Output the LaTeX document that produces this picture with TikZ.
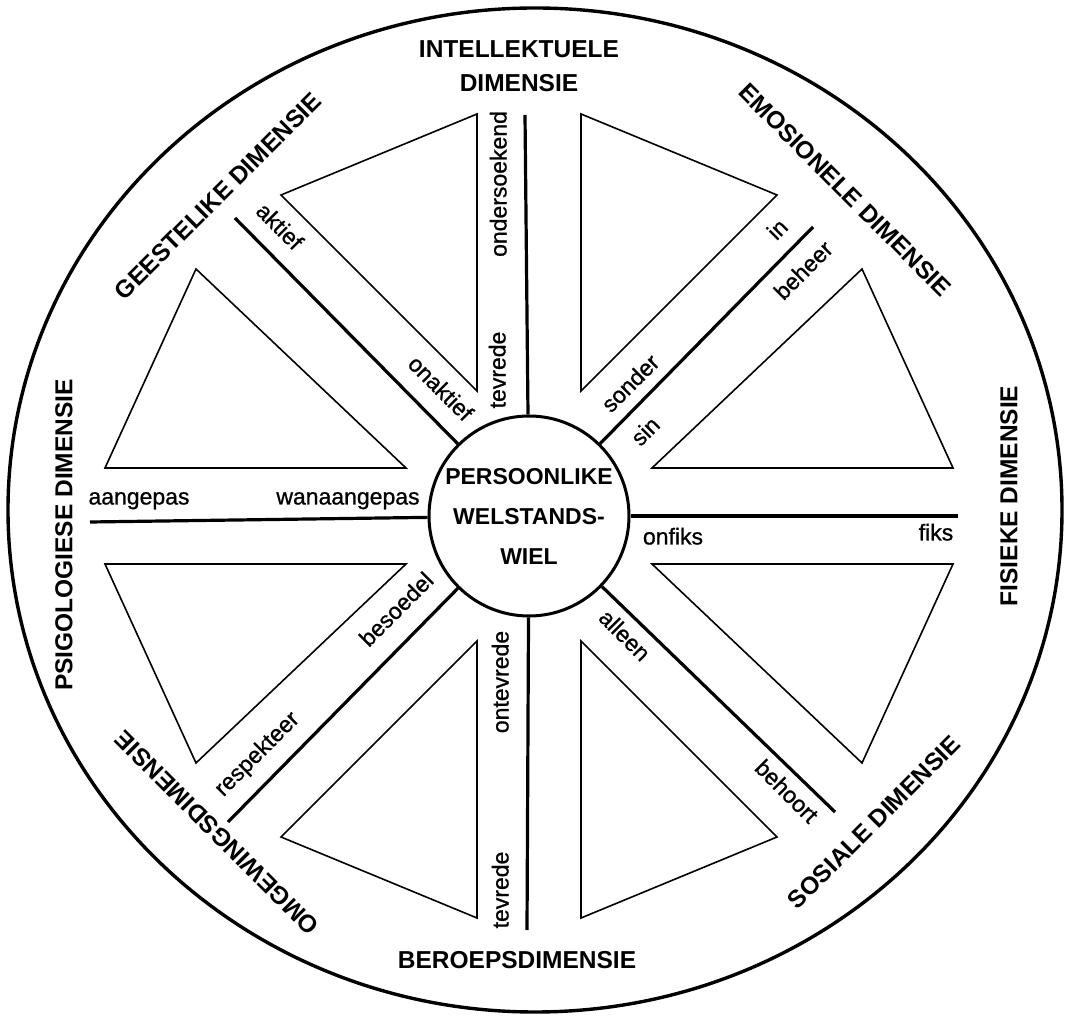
\documentclass[tikz,border=0pt]{standalone}
\usepackage{fontspec}
\setmainfont{Liberation Sans}
\newfontfamily\labfont{Liberation Sans}[FakeBold=0.9]
\usetikzlibrary{positioning}

\begin{document}
\begin{tikzpicture}[
    x=1pt, y=1pt,
    rim/.style={line width=3.4pt},
    spoke/.style={line width=3.2pt},
    tri/.style={line width=1.6pt, line join=miter},
    dim/.style={font=\fontsize{24.5}{34}\selectfont\bfseries, align=center, inner sep=0pt},
    lab/.style={font=\labfont\fontsize{23}{26}\selectfont, inner sep=0pt,
                text height=11pt, text depth=0pt}
]
\useasboundingbox (0,0) rectangle (1065,1020);

%% RIM
\draw[rim] (535,510) ellipse [x radius=527, y radius=502];

%% HUB
\node[circle, draw, line width=3pt, minimum size=200pt, inner sep=0pt,
      align=center, font=\fontsize{23}{40}\selectfont\bfseries]
    (hub) at (529,504) {PERSOONLIKE\\WELSTANDS-\\WIEL};

%% SPOKES
\foreach \n/\px/\py in {0/958/504, 45/813/793, 90/525/905, 135/235/802,
                        180/90/498, 225/228/198, 270/527/90, 315/835/208}
    \coordinate (s\n) at (\px,\py);
\foreach \n in {0,45,...,315}
    \draw[spoke] (hub) -- (s\n);

%% TRIANGLES
\foreach \sx/\sy in {1/1, -1/1, -1/-1, 1/-1} {
  \begin{scope}[shift={(hub.center)}, xscale=\sx, yscale=\sy]
    \draw[tri] (52,125) -- (52,402) -- (248,321) -- cycle;
    \draw[tri] (123,48) -- (424,48) -- (333,247) -- cycle;
  \end{scope}
}

%% DIMENSIONS
\node[dim] (intel) at (519,954) {INTELLEKTUELE\\DIMENSIE};
\node[dim, rotate=-45] (emo) at (845,830) {EMOSIONELE DIMENSIE};
\node[dim, rotate=90] (fis) at (1009,524) {FISIEKE DIMENSIE};
\node[dim, rotate=45] (sos) at (874,198) {SOSIALE DIMENSIE};
\node[dim] (ber) at (517,60) {BEROEPSDIMENSIE};
\node[dim, rotate=135] (omg) at (217,187) {OMGEWINGSDIMENSIE};
\node[dim, rotate=90] (psi) at (64,485) {PSIGOLOGIESE DIMENSIE};
\node[dim, rotate=45] (gee) at (218,824) {GEESTELIKE DIMENSIE};

%% SPOKE LABELS
\node[lab, rotate=90] (ondersoek) at (501,836) {ondersoekend};
\node[lab, rotate=90] (tevtop) at (500,650) {tevrede};
\node[lab, rotate=-45] (aktief) at (278,792) {aktief};
\node[lab, rotate=-45] (onaktief) at (439,630) {onaktief};
\node[lab, rotate=45] (in) at (779,789) {in};
\node[lab, rotate=45] (beheer) at (805,748) {beheer};
\node[lab, rotate=45] (sonder) at (632,635) {sonder};
\node[lab, rotate=45] (sin) at (647,587) {sin};
\node[lab] (onfiks) at (673,481) {onfiks};
\node[lab] (fiks) at (936,485) {fiks};
\node[lab, rotate=-45] (alleen) at (623,383) {alleen};
\node[lab, rotate=-45] (behoort) at (785,227) {behoort};
\node[lab, rotate=90] (ontev) at (503,338) {ontevrede};
\node[lab, rotate=90] (tevbot) at (503,130) {tevrede};
\node[lab, rotate=45] (besoedel) at (398,409) {besoedel};
\node[lab, rotate=45] (respek) at (258,265) {respekteer};
\node[lab] (aangepas) at (139,521) {aangepas};
\node[lab] (wanaan) at (348,521) {wanaangepas};

\end{tikzpicture}
\end{document}
